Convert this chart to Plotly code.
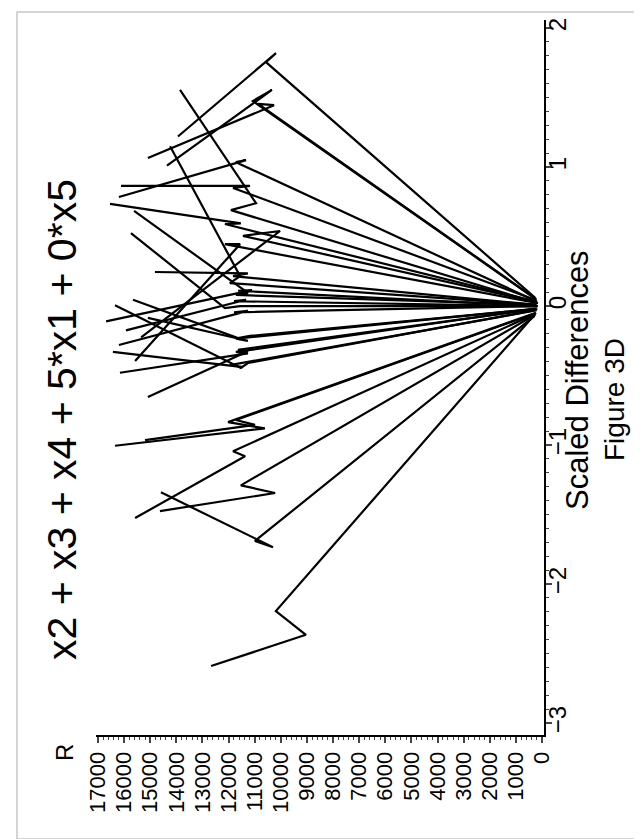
import plotly.graph_objects as go

# Each path: R values (horizontal, reversed axis) and Scaled Differences values
r01 = [13940, 10185, 10568, 260];  s01 = [1.22, 1.82, 1.755, 0.06]
r02 = [14360, 10340, 11070, 240];  s02 = [1.01, 1.555, 1.475, 0.05]
r03 = [15090, 10260, 10870, 220];  s03 = [1.065, 1.445, 1.455, 0.05]
r04 = [16200, 11330, 11720, 280];  s04 = [0.785, 1.05, 1.035, 0.04]
r05 = [16120, 11180, 11830, 200];  s05 = [0.865, 0.865, 0.85, 0.04]
r06 = [13860, 10950, 11910, 310];  s06 = [1.555, 0.74, 0.69, 0.03]
r07 = [16540, 11530, 12140, 180];  s07 = [0.735, 0.595, 0.59, 0.03]
r08 = [15350, 10030, 11450, 230];  s08 = [-0.225, 0.54, 0.505, 0.03]
r09 = [15580, 11560, 12140, 150];  s09 = [-0.395, 0.445, 0.445, 0.02]
r10 = [14240, 11560, 11950, 260];  s10 = [1.15, 0.215, 0.165, 0.01]
r11 = [15620, 11260, 11720, 200];  s11 = [0.685, 0.095, 0.08, 0.01]
r12 = [15740, 12140, 11560, 170];  s12 = [0.525, -0.015, 0.0, 0.0]
r13 = [14820, 11260, 11830, 290];  s13 = [0.245, 0.235, 0.215, 0.01]
r14 = [16690, 11100, 11640, 210];  s14 = [-0.11, 0.115, 0.11, 0.0]
r15 = [16350, 11530, 11260, 240];  s15 = [0.005, -0.445, -0.41, -0.03]
r16 = [15660, 11640, 11180, 190];  s16 = [0.045, -0.23, -0.215, -0.02]
r17 = [15090, 11260, 11720, 270];  s17 = [-0.085, -0.25, -0.235, -0.02]
r18 = [16200, 11260, 11790, 160];  s18 = [-0.28, -0.035, -0.045, 0.0]
r19 = [15930, 11330, 11790, 230];  s19 = [-0.175, 0.045, 0.035, 0.0]
r20 = [16430, 11450, 11950, 200];  s20 = [-0.33, -0.44, -0.425, -0.03]
r21 = [16160, 11260, 11720, 250];  s21 = [-0.48, -0.34, -0.33, -0.02]
r22 = [15090, 11260, 11640, 180];  s22 = [-0.655, -0.325, -0.315, -0.02]
r23 = [16350, 10610, 12020, 260];  s23 = [-1.005, -0.88, -0.835, -0.05]
r24 = [15200, 10990, 11720, 220];  s24 = [-0.965, -0.855, -0.82, -0.05]
r25 = [15580, 11370, 11830, 300];  s25 = [-1.525, -1.08, -1.045, -0.06]
r26 = [14630, 10220, 11530, 240];  s26 = [-1.475, -1.345, -1.29, -0.06]
r27 = [14590, 10300, 10990, 280];  s27 = [-1.34, -1.735, -1.69, -0.07]
r28 = [12670, 9040, 10190, 320];   s28 = [-2.59, -2.365, -2.195, -0.07]

paths = [(r01, s01), (r02, s02), (r03, s03), (r04, s04), (r05, s05), (r06, s06),
         (r07, s07), (r08, s08), (r09, s09), (r10, s10), (r11, s11), (r12, s12),
         (r13, s13), (r14, s14), (r15, s15), (r16, s16), (r17, s17), (r18, s18),
         (r19, s19), (r20, s20), (r21, s21), (r22, s22), (r23, s23), (r24, s24),
         (r25, s25), (r26, s26), (r27, s27), (r28, s28)]

r_ticks = list(range(0, 17001, 1000))
s_ticks = [-3, -2, -1, 0, 1, 2]

title_text = "x2 + x3 + x4 + 5*x1 + 0*x5"
xlabel_text = "Scaled Differences"
caption_text = "Figure 3D"
ylabel_text = "R"

FONT = "Liberation Sans"

fig = go.Figure()
for r, s in paths:
    fig.add_trace(go.Scatter(x=r, y=s, mode="lines",
                             line=dict(color="black", width=2.2),
                             showlegend=False, hoverinfo="skip"))

W, H = 642, 839
L, R_, T, B = 88, 536, 12, 727

fig.update_layout(
    width=W, height=H,
    margin=dict(l=L, r=W - R_, t=T, b=H - B, pad=0, autoexpand=False),
    paper_bgcolor="white", plot_bgcolor="white",
    font=dict(family=FONT, color="black"),
    xaxis=dict(range=[17077, -77], tickvals=r_ticks, ticktext=[str(v) for v in r_ticks],
               tickangle=-90, ticks="outside", ticklen=6, tickwidth=1.5,
               tickfont=dict(size=22, family=FONT), automargin=False,
               showline=True, linecolor="black", linewidth=2, showgrid=False,
               zeroline=False, side="bottom",
               minor=dict(dtick=200, ticks="outside", ticklen=3, tickwidth=1)),
    yaxis=dict(range=[-3.086, 2.058], tickvals=s_ticks,
               tickangle=-90, ticks="outside", ticklen=6, tickwidth=1.5,
               tickfont=dict(size=24, family=FONT), automargin=False,
               ticklabelstandoff=-15,
               showline=True, linecolor="black", linewidth=2, showgrid=False,
               zeroline=False, side="right",
               minor=dict(dtick=0.1, ticks="outside", ticklen=3, tickwidth=1)),
)

def px_x(p):
    return (p - L) / (R_ - L)

def px_y(p):
    return (B - p) / (B - T)

fig.add_shape(type="rect", xref="paper", yref="paper",
              x0=px_x(9), x1=px_x(633), y0=px_y(831), y1=px_y(4),
              line=dict(color="#c8c8c8", width=1.5))

fig.add_annotation(text=title_text, textangle=-90, showarrow=False,
                   xref="paper", yref="paper", x=px_x(54), y=px_y(412),
                   xanchor="center", yanchor="middle",
                   font=dict(size=41, family=FONT))
fig.add_annotation(text=ylabel_text, textangle=-90, showarrow=False,
                   xref="paper", yref="paper", x=px_x(56), y=px_y(745),
                   xanchor="center", yanchor="middle",
                   font=dict(size=24, family=FONT))
fig.add_annotation(text=xlabel_text, textangle=-90, showarrow=False,
                   xref="paper", yref="paper", x=px_x(569), y=px_y(372),
                   xanchor="center", yanchor="middle",
                   font=dict(size=31, family=FONT))
fig.add_annotation(text=caption_text, textangle=-90, showarrow=False,
                   xref="paper", yref="paper", x=px_x(606), y=px_y(392),
                   xanchor="center", yanchor="middle",
                   font=dict(size=28, family=FONT))

fig.write_html("out.html")
